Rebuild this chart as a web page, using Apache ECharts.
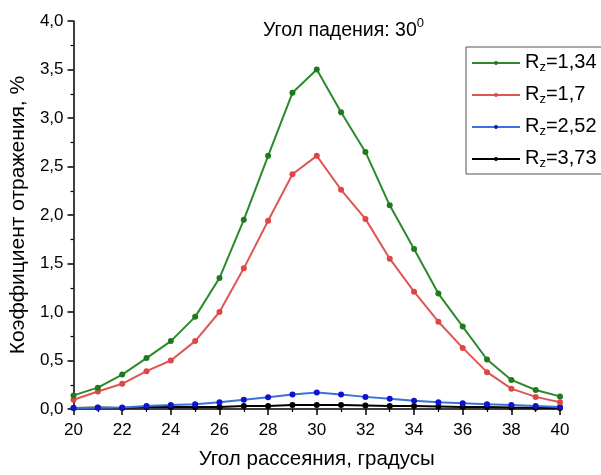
<!DOCTYPE html>
<html>
<head>
<meta charset="utf-8">
<script src="https://cdn.jsdelivr.net/npm/echarts@6/dist/echarts.min.js"></script>
<style>
  html, body { margin: 0; padding: 0; background: #fff; }
  #chart { width: 601px; height: 475px; }
</style>
</head>
<body>
<div id="chart"></div>
<script>
// Scattering angle, degrees
const angles = [20, 21, 22, 23, 24, 25, 26, 27, 28, 29, 30, 31, 32, 33, 34, 35, 36, 37, 38, 39, 40];

// Reflection coefficient, % for each roughness value
const rz134 = [0.14, 0.22, 0.355, 0.525, 0.70, 0.95, 1.35, 1.95, 2.61, 3.26, 3.50, 3.06, 2.65, 2.10, 1.65, 1.19, 0.85, 0.51, 0.30, 0.196, 0.13];
const rz17  = [0.095, 0.18, 0.26, 0.39, 0.50, 0.70, 1.00, 1.45, 1.94, 2.42, 2.61, 2.26, 1.96, 1.55, 1.21, 0.90, 0.63, 0.38, 0.21, 0.125, 0.07];
const rz252 = [0.01, 0.012, 0.015, 0.03, 0.04, 0.05, 0.07, 0.095, 0.12, 0.15, 0.17, 0.15, 0.125, 0.105, 0.085, 0.07, 0.06, 0.05, 0.04, 0.03, 0.02];
const rz373 = [0.01, 0.015, 0.01, 0.02, 0.02, 0.02, 0.02, 0.03, 0.03, 0.04, 0.04, 0.04, 0.035, 0.03, 0.03, 0.025, 0.02, 0.02, 0.015, 0.012, 0.01];

const seriesNames = ['1,34', '1,7', '2,52', '3,73'];
const seriesData = [rz134, rz17, rz252, rz373];
const lineColors = ['#2b8a2b', '#e05555', '#3a72d8', '#000000'];
const dotColors = ['#1f7a1f', '#e04545', '#1010d0', '#000000'];

const FONT = '"Liberation Sans", Arial, sans-serif';
const comma = v => v.toFixed(1).replace('.', ',');

const series = seriesData.map((vals, i) => ({
  name: seriesNames[i],
  type: 'line',
  data: angles.map((a, k) => [a, vals[k]]),
  symbol: 'circle',
  symbolSize: 6,
  lineStyle: { color: lineColors[i], width: 2 },
  itemStyle: { color: dotColors[i] },
  z: 10 - i
}));

const chart = echarts.init(document.getElementById('chart'), null, { renderer: 'canvas' });
chart.setOption({
  animation: false,
  backgroundColor: '#fff',
  title: {
    text: '{a|Угол падения: 30}{s|0}',
    left: 258,
    top: 12,
    textStyle: {
      fontWeight: 'normal',
      rich: {
        a: { fontFamily: FONT, fontSize: 19.5, fontWeight: 'normal', color: '#000', verticalAlign: 'top', padding: [4, 0, 0, 0] },
        s: { fontFamily: FONT, fontSize: 13, fontWeight: 'normal', color: '#000', verticalAlign: 'top' }
      }
    }
  },
  legend: {
    left: 466,
    top: 47,
    orient: 'vertical',
    itemWidth: 48,
    itemHeight: 5,
    itemGap: 10,
    padding: [5, 6, 4, 5],
    borderColor: '#555',
    borderWidth: 1,
    data: seriesNames,
    formatter: name => '{r|R}{z|z}{r|=' + name + '}',
    textStyle: {
      rich: {
        r: { fontFamily: FONT, fontSize: 20, color: '#000', verticalAlign: 'top' },
        z: { fontFamily: FONT, fontSize: 13, color: '#000', verticalAlign: 'top', padding: [9, 0, 0, 0] }
      }
    }
  },
  grid: { left: 70, right: 41, top: 21, bottom: 60, containLabel: false },
  xAxis: {
    type: 'value',
    min: 20,
    max: 40,
    interval: 2,
    name: 'Угол рассеяния, градусы',
    nameLocation: 'middle',
    nameGap: 40,
    nameTextStyle: { fontFamily: FONT, fontSize: 20.5, color: '#000' },
    axisLine: { lineStyle: { color: '#000', width: 1.5 } },
    axisTick: { inside: false, length: 6, lineStyle: { color: '#000', width: 1.5 } },
    minorTick: { show: true, splitNumber: 2, length: 3, lineStyle: { color: '#000', width: 1.2 } },
    axisLabel: { fontFamily: FONT, fontSize: 17, color: '#000', margin: 13 },
    splitLine: { show: false }
  },
  yAxis: {
    type: 'value',
    min: 0,
    max: 4,
    interval: 0.5,
    name: 'Коэффициент отражения, %',
    nameLocation: 'middle',
    nameGap: 42,
    nameTextStyle: { fontFamily: FONT, fontSize: 21, color: '#000' },
    axisLine: { show: true, lineStyle: { color: '#000', width: 1.5 } },
    axisTick: { show: true, inside: false, length: 6, lineStyle: { color: '#000', width: 1.5 } },
    minorTick: { show: true, splitNumber: 2, length: 3, lineStyle: { color: '#000', width: 1.2 } },
    axisLabel: { fontFamily: FONT, fontSize: 17, color: '#000', margin: 10, formatter: comma },
    splitLine: { show: false }
  },
  series: series
});
</script>
</body>
</html>
